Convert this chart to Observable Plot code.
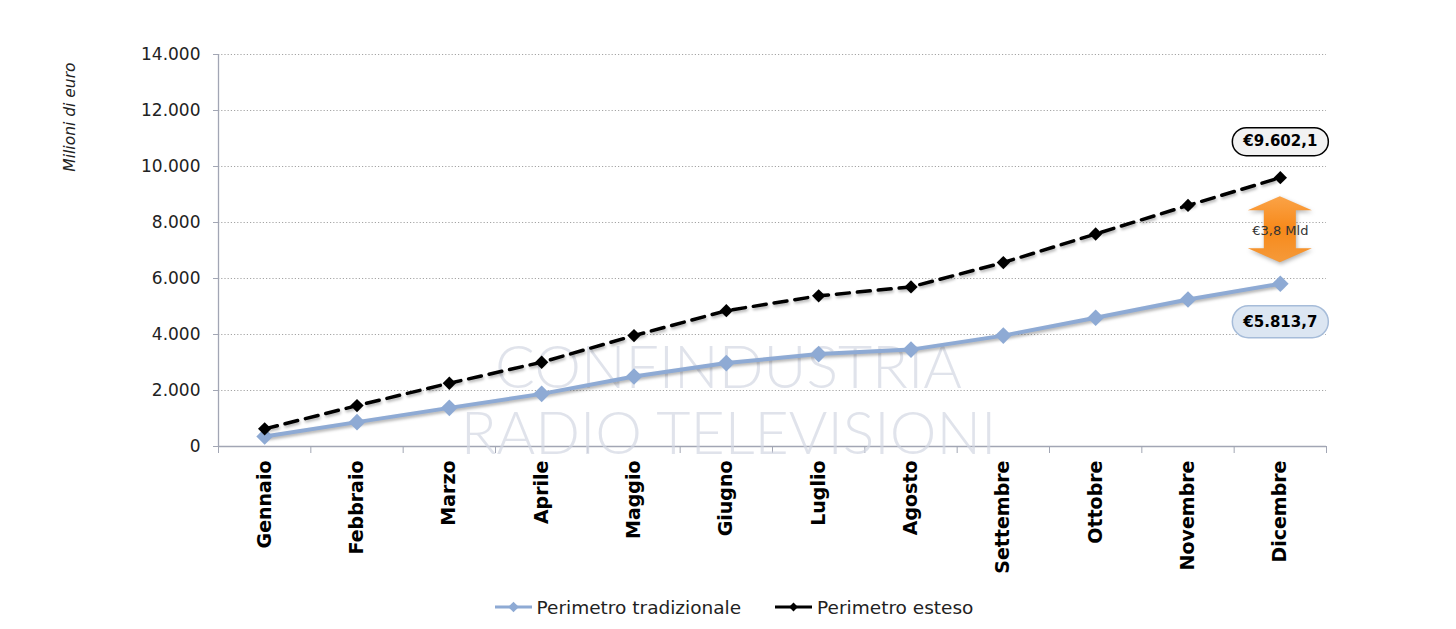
<!DOCTYPE html>
<html>
<head>
<meta charset="utf-8">
<script src="https://cdn.jsdelivr.net/npm/d3@7"></script>
<script src="https://cdn.jsdelivr.net/npm/@observablehq/plot@0.6"></script>
<style>
  html, body { margin: 0; padding: 0; background: #fff; }
  #chart svg { display: block; font-family: "DejaVu Sans", sans-serif; }
  #legend { height: 44px; display: flex; justify-content: center; align-items: center; gap: 34px;
            font-family: "DejaVu Sans", sans-serif; font-size: 18.5px; color: #222; padding-left: 12px; box-sizing: border-box; }
  #legend .item { display: flex; align-items: center; gap: 5px; }
  .shadow path { filter: drop-shadow(1px 2px 1.5px rgba(0,0,0,0.3)); }
</style>
</head>
<body>
<div id="chart"></div>
<div id="legend"></div>
<script>
// ---- data ----
const months = ["Gennaio","Febbraio","Marzo","Aprile","Maggio","Giugno","Luglio","Agosto","Settembre","Ottobre","Novembre","Dicembre"];
const tradizionale = [360, 870, 1380, 1880, 2500, 2980, 3300, 3460, 3960, 4600, 5250, 5813.7];
const esteso = [630, 1460, 2260, 3010, 3960, 4850, 5380, 5700, 6570, 7590, 8610, 9602.1];
const yTicks = [0, 2000, 4000, 6000, 8000, 10000, 12000, 14000];
const seriesNames = ["Perimetro tradizionale", "Perimetro esteso"];
const yLabel = "Milioni di euro";
const watermark = ["CONFINDUSTRIA", "RADIO TELEVISIONI"];

const BLUE = "#8eaad4";
const itLocale = d3.formatLocale({decimal: ",", thousands: ".", grouping: [3], currency: ["€", ""]});
const fmtInt = itLocale.format(",d");
const fmt1 = itLocale.format(",.1f");

const data = months.map((m, i) => ({i, month: m, trad: tradizionale[i], est: esteso[i]}));
const last = data[data.length - 1];
const boundaries = d3.range(months.length + 1).map(k => k - 0.5);

// pill shaped custom symbol
function pill(w, h) {
  return {
    draw(ctx) {
      const r = h / 2, x0 = -w / 2, x1 = w / 2;
      ctx.moveTo(x0 + r, -r);
      ctx.lineTo(x1 - r, -r);
      ctx.arc(x1 - r, 0, r, -Math.PI / 2, Math.PI / 2);
      ctx.lineTo(x0 + r, r);
      ctx.arc(x0 + r, 0, r, Math.PI / 2, 3 * Math.PI / 2);
      ctx.closePath();
    }
  };
}

// orange double arrow between the two December values
function doubleArrow(...args) {
  const scales = args.find(a => a && typeof a.x === "function" && typeof a.y === "function");
  const cx = scales.x(last.i);
  const yt = scales.y(last.est) + 19;
  const yb = scales.y(last.trad) - 21;
  const hw = 32, sw = 16, hh = 14;
  const pts = [[cx, yt],[cx + hw, yt + hh],[cx + sw, yt + hh],[cx + sw, yb - hh],[cx + hw, yb - hh],[cx, yb],
               [cx - hw, yb - hh],[cx - sw, yb - hh],[cx - sw, yt + hh],[cx - hw, yt + hh]];
  const g = d3.create("svg:g");
  const grad = g.append("defs").append("linearGradient").attr("id", "orangeGrad")
    .attr("x1", 0).attr("x2", 0).attr("y1", 0).attr("y2", 1);
  grad.append("stop").attr("offset", "0%").attr("stop-color", "#fba347");
  grad.append("stop").attr("offset", "50%").attr("stop-color", "#f7891a");
  grad.append("stop").attr("offset", "100%").attr("stop-color", "#f59a3a");
  g.append("polygon").attr("points", pts.map(p => p.join(",")).join(" "))
    .attr("fill", "url(#orangeGrad)")
    .style("filter", "drop-shadow(1px 2px 2px rgba(0,0,0,0.3))");
  return g.node();
}

const wmStyle = {frameAnchor: "top", dx: -44, fontSize: 59, fontWeight: 300, fontFamily: "Lato",
  fill: "#d3d7e2", fillOpacity: 0.7};

const chart = Plot.plot({
  width: 1456,
  height: 585,
  marginLeft: 218,
  marginRight: 130,
  marginTop: 54,
  marginBottom: 139,
  x: {type: "linear", domain: [-0.5, 11.5], axis: null, label: null},
  y: {domain: [0, 14000], axis: null, label: null},
  marks: [
    Plot.gridY(yTicks, {stroke: "#9a9a9a", strokeOpacity: 0.9, strokeDasharray: "1.2,2"}),
    Plot.ruleX([-0.5], {stroke: "#a2a6b4", strokeWidth: 1.3}),
    Plot.ruleY([0], {stroke: "#a2a6b4", strokeWidth: 1.3}),
    Plot.axisY(yTicks, {tickSize: 5, tickPadding: 13, tickFormat: fmtInt, fontSize: 17, stroke: "#a2a6b4", fill: "#222"}),
    Plot.axisX(boundaries, {tickSize: 7, tickFormat: () => "", stroke: "#a2a6b4"}),
    Plot.axisX(d3.range(months.length), {tickSize: 0, tickPadding: 14, tickRotate: -90, tickFormat: i => months[i],
      fontSize: 19, fontWeight: "bold", fill: "#000"}),
    Plot.text([yLabel], {frameAnchor: "top-left", dx: -155, dy: 8, rotate: -90, textAnchor: "end",
      fontStyle: "italic", fontSize: 15.5, fill: "#222"}),
    Plot.text([watermark[0]], {...wmStyle, dy: 292}),
    Plot.text([watermark[1]], {...wmStyle, dy: 358}),
    Plot.line(data, {x: "i", y: "trad", stroke: BLUE, strokeWidth: 4, className: "shadow"}),
    Plot.dot(data, {x: "i", y: "trad", symbol: "diamond2", r: 7.5, fill: BLUE}),
    Plot.line(data, {x: "i", y: "est", stroke: "#000", strokeWidth: 3.5, strokeDasharray: "13,8", className: "shadow"}),
    Plot.dot(data, {x: "i", y: "est", symbol: "diamond2", r: 6, fill: "#000"}),
    doubleArrow,
    Plot.text([last], {x: "i", y: d => (d.est + d.trad) / 2, text: d => "€" + fmt1((d.est - d.trad) / 1000) + " Mld",
      fontSize: 13, fill: "#333"}),
    Plot.dot([last], {x: "i", y: "est", dy: -36, symbol: pill(96, 28), fill: "#f2f2f2", stroke: "#000", strokeWidth: 1.5}),
    Plot.text([last], {x: "i", y: "est", dy: -36, text: d => "€" + fmt1(d.est), fontSize: 15, fontWeight: "bold", fill: "#000"}),
    Plot.dot([last], {x: "i", y: "trad", dy: 38, symbol: pill(96, 32), fill: "#dce6f2", stroke: "#a6bcd9", strokeWidth: 1.5}),
    Plot.text([last], {x: "i", y: "trad", dy: 38, text: d => "€" + fmt1(d.trad), fontSize: 15, fontWeight: "bold", fill: "#000"})
  ]
});
document.getElementById("chart").appendChild(chart);

// legend
const legend = d3.select("#legend");
const specs = [
  {name: seriesNames[0], stroke: BLUE, width: 3, r: 6},
  {name: seriesNames[1], stroke: "#000", width: 3, r: 5}
];
for (const s of specs) {
  const item = legend.append("div").attr("class", "item");
  const sv = item.append("svg").attr("width", 37).attr("height", 16);
  sv.append("line").attr("x1", 0).attr("x2", 37).attr("y1", 8).attr("y2", 8)
    .attr("stroke", s.stroke).attr("stroke-width", s.width);
  sv.append("path").attr("transform", "translate(18.5,8)")
    .attr("d", d3.symbol(d3.symbolDiamond2, s.r * s.r * 2)()).attr("fill", s.stroke);
  item.append("span").text(s.name);
}
</script>
</body>
</html>
